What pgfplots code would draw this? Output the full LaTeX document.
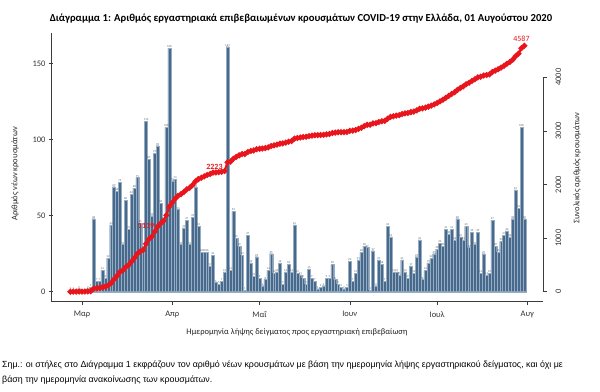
\documentclass[border=0pt]{standalone}
\usepackage{fontspec}
\setmainfont{Carlito}
\newfontfamily\footfont{Liberation Sans}
\usepackage{pgfplots}
\usepackage{pgfplotstable}
\pgfplotsset{compat=1.18}
\definecolor{barcol}{RGB}{71,106,140}
\definecolor{barline}{RGB}{150,172,194}
\definecolor{cumred}{RGB}{232,22,28}
\definecolor{axgray}{RGB}{60,60,60}

\pgfplotstableread{
d n c
-4 1 1
-3 1 2
-2 0 2
-1 2 4
0 0 4
1 0 4
2 2 6
3 3 9
4 48 57
5 7 64
6 7 71
7 14 85
8 9 94
9 22 116
10 44 160
11 69 229
12 66 295
13 72 367
14 31 398
15 60 458
16 41 499
17 64 563
18 68 631
19 75 706
20 45 751
21 28 779
22 112 891
23 87 978
24 50 1028
25 91 1119
26 96 1215
27 58 1273
28 47 1320
29 108 1428
30 160 1588
31 73 1661
32 74 1735
33 54 1789
34 31 1820
35 42 1862
36 47 1909
37 31 1940
38 49 1989
39 69 2058
40 43 2101
41 26 2127
42 26 2153
43 26 2179
44 17 2196
45 24 2220
46 6 2226
47 5 2231
48 7 2238
49 13 2251
50 161 2412
51 14 2426
52 53 2479
53 35 2514
54 30 2544
55 24 2568
56 1 2569
57 37 2606
58 19 2625
59 10 2635
60 23 2658
61 9 2667
62 4 2671
63 8 2679
64 14 2693
65 25 2718
66 12 2730
67 13 2743
68 19 2762
69 5 2767
70 13 2780
71 18 2798
72 13 2811
73 44 2855
74 12 2867
75 11 2877
76 9 2886
77 5 2890
78 15 2904
79 9 2912
80 7 2919
81 2 2921
82 3 2924
83 4 2927
84 9 2936
85 9 2944
86 18 2961
87 8 2968
88 5 2973
89 3 2975
90 2 2977
91 3 2980
92 20 2999
93 7 3005
94 12 3016
95 21 3036
96 26 3060
97 30 3088
98 29 3114
99 1 3115
100 27 3140
101 4 3144
102 21 3164
103 18 3180
104 7 3187
105 43 3227
106 36 3260
107 13 3272
108 13 3284
109 11 3294
110 21 3314
111 13 3326
112 9 3334
113 17 3350
114 12 3361
115 23 3382
116 34 3414
117 8 3421
118 14 3434
119 19 3452
120 22 3472
121 25 3495
122 28 3521
123 32 3551
124 30 3579
125 41 3617
126 38 3652
127 41 3690
128 34 3721
129 48 3766
130 36 3799
131 34 3831
132 43 3871
133 29 3897
134 39 3934
135 31 3962
136 39 3998
137 12 4010
138 25 4033
139 11 4043
140 12 4054
141 47 4098
142 30 4125
143 26 4150
144 33 4180
145 37 4214
146 40 4251
147 36 4285
148 48 4329
149 67 4391
150 55 4442
151 108 4542
152 48 4587
}\datatable

\pgfplotsset{
  common/.style={
    at={(51bp,91bp)}, anchor=south west, scale only axis,
    width=492bp, height=268bp,
    xmin=-10.65, xmax=158.4,
    /pgf/number format/assume math mode=true,
    /pgf/number format/1000 sep={},
    tick align=outside, major tick length=4bp,
    tick style={axgray, line width=0.5bp},
    ticklabel style={font=\fontsize{8.5}{10}\selectfont, text=black!80},
    label style={font=\fontsize{8.5}{10}\selectfont, text=black!85},
  }
}

\begin{document}
\begin{tikzpicture}
\useasboundingbox (0,0) rectangle (600bp,392bp);
\fill[white] (0,0) rectangle (600bp,392bp);
\begin{axis}[common,
  ymin=-6.1, ymax=170,
  axis x line=bottom, axis y line=left,
  axis line style={-, axgray, line width=0.5bp},
  every outer x axis line/.append style={-},
  every outer y axis line/.append style={-},
  every inner x axis line/.append style={-},
  every inner y axis line/.append style={-},
  xtick={0,31,61,92,122,153},
  xticklabels={Μαρ,Απρ,Μαΐ,Ιουν,Ιουλ,Αυγ},
  xticklabel style={yshift=-3bp},
  ytick={0,50,100,150},
  xlabel={Ημερομηνία λήψης δείγματος προς εργαστηριακή επιβεβαίωση},
  xlabel style={at={(axis description cs:0.5,-0.1157)}, anchor=center},
  ylabel={Αριθμός νέων κρουσμάτων},
  ylabel style={at={(axis description cs:-0.0732,0.474)}, anchor=center},
  ybar, bar width=1, bar shift=0,
  clip=false,
]
\addplot[fill=barcol, draw=barline, line width=0.2bp,
  nodes near coords,
  every node near coord/.append style={font=\fontsize{3}{3}\selectfont, text=black!60, inner sep=0.4bp}]
  table[x=d, y=n] {\datatable};
\end{axis}
\begin{axis}[common,
  ymin=-173, ymax=4826,
  axis x line=none,
  axis y line*=right,
  y axis line style={draw=none},
  ytick={0,1000,2000,3000,4000},
  yticklabel style={rotate=90, anchor=north, yshift=-5bp},
  ylabel={Συνολικός αριθμός κρουσμάτων},
  ylabel style={at={(axis description cs:1.069,0.495)}, anchor=center},
  clip=false,
]
\draw[axgray, line width=0.5bp] (axis cs:158.4,0) -- (axis cs:158.4,4000);
\addplot[cumred, line width=2.2bp, mark=*, mark size=1.7bp, mark options={fill=cumred, draw=cumred}]
  table[x=d, y=c] {\datatable};
\node[cumred, font=\fontsize{8}{9}\selectfont, anchor=south] at (axis cs:151,4600) {4587};
\node[cumred, font=\fontsize{8}{9}\bfseries, anchor=east] at (axis cs:49.5,2330) {2223};
\node[cumred, font=\fontsize{8}{9}\bfseries, anchor=east] at (axis cs:26,1220) {1119};
\end{axis}
\node[font=\fontsize{10.7}{12}\selectfont\bfseries] at (301bp,373bp) {Διάγραμμα 1: Αριθμός εργαστηριακά επιβεβαιωμένων κρουσμάτων COVID-19 στην Ελλάδα, 01 Αυγούστου 2020};
\node[anchor=west, inner sep=0pt, font=\footfont\fontsize{8.9}{10}\selectfont] at (2bp,27bp) {Σημ.: οι στήλες στο Διάγραμμα 1 εκφράζουν τον αριθμό νέων κρουσμάτων με βάση την ημερομηνία λήψης εργαστηριακού δείγματος, και όχι με};
\node[anchor=west, inner sep=0pt, font=\footfont\fontsize{8.9}{10}\selectfont] at (2bp,12bp) {βάση την ημερομηνία ανακοίνωσης των κρουσμάτων.};
\end{tikzpicture}
\end{document}
